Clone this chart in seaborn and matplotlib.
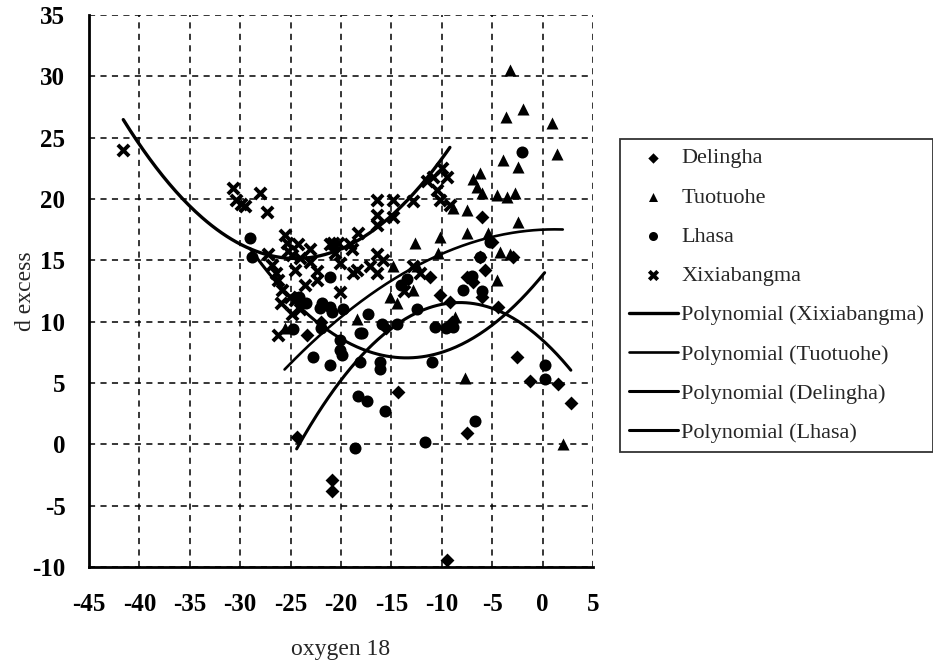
import numpy as np
import pandas as pd
import matplotlib
matplotlib.use("Agg")
import matplotlib.pyplot as plt
import seaborn as sns

# ---- data ----
delingha_x = [-24.4, -23.4, -20.9, -20.9, -14.3, -9.5, -9.2, -7.5, -7.5, -11.2, -6.0, -6.2,
              -5.7, -2.9, -6.9, -6.0, -4.4, -2.5, -1.3, 1.5, 2.8, -9.0, -5.0, -15.5, -22.0, -10.2]
delingha_y = [0.6, 8.9, -2.9, -3.8, 4.3, -9.4, 11.6, 0.9, 13.6, 13.6, 18.5, 15.3,
              14.2, 15.3, 13.2, 12.0, 11.2, 7.1, 5.2, 4.9, 3.4, 10.0, 16.5, 9.5, 10.0, 12.2]

tuotuohe_x = [-3.2, -3.6, -1.9, 0.9, 1.4, -3.9, -2.4, -6.2, -6.9, -6.0, -3.5, -2.7, -2.4,
              -4.2, -3.2, -4.5, -8.9, -7.5, -7.5, -10.2, -12.7, -10.4, -14.8, -12.5, -12.9,
              -15.1, -14.4, -8.7, -18.4, -7.7, 2.0, -5.4, -4.5, -25.6, -24.5, -6.5]
tuotuohe_y = [30.5, 26.7, 27.3, 26.2, 23.7, 23.2, 22.6, 22.1, 21.6, 20.5, 20.2, 20.5, 18.1,
              15.7, 15.5, 13.4, 19.3, 19.1, 17.2, 16.9, 16.4, 15.6, 14.5, 14.5, 12.6,
              12.0, 11.5, 10.4, 10.2, 5.4, 0.0, 17.2, 20.3, 9.5, 12.0, 21.0]

lhasa_x = [-29.0, -28.8, -24.8, -24.2, -23.5, -22.1, -21.9, -21.1, -21.1, -20.9, -19.8, -17.3,
           -18.1, -17.9, -15.9, -14.4, -12.5, -10.7, -9.6, -7.9, -7.0, -6.0, -22.8, -21.1,
           -20.1, -19.9, -20.1, -16.1, -16.1, -18.1, -11.0, -18.3, -17.4, -15.6, -18.6, -11.7,
           0.2, 0.2, -6.7, -2.0, -5.2, -6.2, -22.0, -13.5, -14.0, -8.9]
lhasa_y = [16.8, 15.3, 9.4, 12.0, 11.5, 11.1, 11.5, 13.6, 11.2, 10.8, 11.0, 10.6,
           9.1, 9.1, 9.8, 9.8, 11.0, 9.6, 9.5, 12.6, 13.7, 12.5, 7.1, 6.5,
           7.7, 7.3, 8.5, 6.7, 6.1, 6.7, 6.7, 3.9, 3.5, 2.7, -0.3, 0.2,
           6.5, 5.3, 1.9, 23.8, 16.5, 15.3, 9.5, 13.5, 13.0, 9.6]

xixia_x = [-41.6, -30.7, -30.4, -29.9, -29.5, -28.0, -27.3, -27.2, -26.8, -26.4, -26.3, -26.0,
           -26.3, -25.6, -25.4, -25.3, -24.9, -24.6, -24.3, -24.1, -23.6, -23.1, -23.1, -25.9,
           -25.1, -24.6, -24.1, -24.9, -22.4, -22.4, -21.1, -20.8, -20.6, -20.3, -20.1, -18.9,
           -19.1, -18.4, -18.3, -17.1, -16.4, -16.4, -16.4, -16.4, -16.4, -14.8, -14.8, -12.9,
           -12.9, -12.2, -10.9, -10.5, -10.2, -10.0, -9.5, -9.2, -11.5, -13.8, -20.1, -18.8,
           -15.8]
xixia_y = [24.0, 20.9, 19.9, 19.6, 19.4, 20.5, 18.9, 15.5, 14.6, 14.0, 13.4, 11.5,
           8.9, 17.1, 16.4, 15.8, 15.4, 14.2, 16.3, 15.2, 13.0, 14.9, 15.9, 12.6,
           12.0, 11.8, 11.0, 10.6, 13.4, 14.1, 16.3, 16.4, 15.6, 16.4, 12.4, 15.9,
           16.3, 14.2, 17.2, 14.5, 14.0, 15.5, 17.9, 18.7, 19.9, 18.5, 19.9, 19.8,
           14.5, 14.0, 21.8, 20.7, 19.9, 22.5, 21.8, 19.5, 21.5, 12.5, 14.8, 14.0,
           15.0]

# 2nd order trendline coefficients (a, b, c), estimated from the drawn curves
fit_xixia = [0.0387, 1.896, 38.37]
fit_tuotuohe = [-0.0159, 0.0383, 17.5]
fit_delingha = [-0.0455, -0.747, 8.49]
fit_lhasa = [0.037, 0.999, 13.79]

x_ticks = list(range(-45, 6, 5))
y_ticks = list(range(-10, 36, 5))

# ---- style ----
sns.set_style("white")
plt.rcParams["font.family"] = ["Liberation Serif", "DejaVu Serif"]
plt.rcParams["axes.unicode_minus"] = False

fig, ax = plt.subplots(figsize=(9.33, 6.69), dpi=100)
fig.subplots_adjust(left=0.0954, right=0.6356, bottom=0.1525, top=0.9776)

series = [
    ("Delingha", delingha_x, delingha_y, "D", 50, 0),
    ("Tuotuohe", tuotuohe_x, tuotuohe_y, "^", 75, 0),
    ("Lhasa", lhasa_x, lhasa_y, "o", 75, 0),
    ("Xixiabangma", xixia_x, xixia_y, "x", 65, 2.8),
]
for name, xs, ys, mk, sz, lw in series:
    df = pd.DataFrame({"x": xs, "y": ys})
    sns.scatterplot(data=df, x="x", y="y", marker=mk, s=sz, color="black",
                    edgecolor="black", linewidth=lw, ax=ax, label=name, zorder=3)

fits = [
    ("Polynomial (Xixiabangma)", xixia_x, fit_xixia, 2.4),
    ("Polynomial (Tuotuohe)", tuotuohe_x, fit_tuotuohe, 1.9),
    ("Polynomial (Delingha)", delingha_x, fit_delingha, 2.2),
    ("Polynomial (Lhasa)", lhasa_x, fit_lhasa, 2.2),
]
for name, xs, coef, lw in fits:
    xx = np.linspace(min(xs), max(xs), 200)
    sns.lineplot(x=xx, y=np.polyval(coef, xx), color="black", lw=lw, ax=ax,
                 label=name, sort=False, zorder=4)

ax.set_xlim(-45, 5)
ax.set_ylim(-10, 35)
ax.set_xticks(x_ticks)
ax.set_yticks(y_ticks)
ax.grid(True, color="black", linestyle=(0, (4, 3.5)), linewidth=1.1)
for s in ["top", "right"]:
    ax.spines[s].set_visible(False)
for s in ["left", "bottom"]:
    ax.spines[s].set_linewidth(2)
    ax.spines[s].set_color("black")
ax.tick_params(direction="inout", length=10, width=1.5, colors="black",
               labelsize=18)
ax.tick_params(axis="x", pad=14)
ax.tick_params(axis="y", pad=12)
for lab in ax.get_xticklabels() + ax.get_yticklabels():
    lab.set_fontweight("bold")

ax.set_xlabel("oxygen 18", fontsize=17, labelpad=16)
ax.set_ylabel("d excess", fontsize=17)
ax.yaxis.set_label_coords(-0.106, 0.5)

handles, labels = ax.get_legend_handles_labels()
ax.get_legend().remove()
leg = fig.legend(handles, labels, loc="upper left",
                 bbox_to_anchor=(620 / 933, 1 - 139 / 669),
                 frameon=True, fancybox=False, shadow=False, fontsize=16,
                 markerscale=0.75, handlelength=2.2, handletextpad=0.15,
                 labelspacing=0.84, borderpad=0.4, borderaxespad=0)
leg.get_frame().set_edgecolor("black")
leg.get_frame().set_linewidth(1.3)

fig.savefig("out.png", dpi=100)
